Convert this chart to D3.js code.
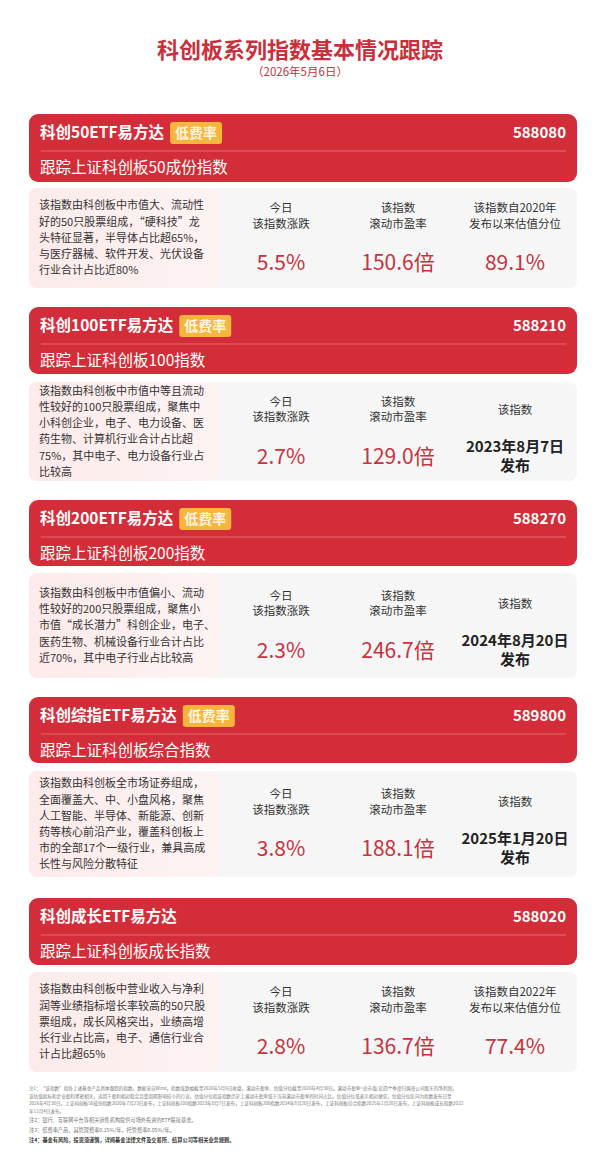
<!DOCTYPE html>
<meta charset="utf-8">
<style>
  body { margin: 0; background: #fff; }
  text { font-family: "Noto Sans CJK SC", "Noto Sans", sans-serif; }
</style>
<body>
<div id="board"></div>
<script src="https://d3js.org/d3.v7.min.js"></script>
<script>
// card data
var names = ["科创50ETF易方达", "科创100ETF易方达", "科创200ETF易方达", "科创综指ETF易方达", "科创成长ETF易方达"];
var codes = ["588080", "588210", "588270", "589800", "588020"];
var lowFee = [true, true, true, true, false];
var tracks = ["跟踪上证科创板50成份指数", "跟踪上证科创板100指数", "跟踪上证科创板200指数", "跟踪上证科创板综合指数", "跟踪上证科创板成长指数"];
var descs = [
  ["该指数由科创板中市值大、流动性", "好的50只股票组成，“硬科技”龙", "头特征显著，半导体占比超65%，", "与医疗器械、软件开发、光伏设备", "行业合计占比近80%"],
  ["该指数由科创板中市值中等且流动", "性较好的100只股票组成，聚焦中", "小科创企业，电子、电力设备、医", "药生物、计算机行业合计占比超", "75%，其中电子、电力设备行业占", "比较高"],
  ["该指数由科创板中市值偏小、流动", "性较好的200只股票组成，聚焦小", "市值“成长潜力”科创企业，电子、", "医药生物、机械设备行业合计占比", "近70%，其中电子行业占比较高"],
  ["该指数由科创板全市场证券组成，", "全面覆盖大、中、小盘风格，聚焦", "人工智能、半导体、新能源、创新", "药等核心前沿产业，覆盖科创板上", "市的全部17个一级行业，兼具高成", "长性与风险分散特征"],
  ["该指数由科创板中营业收入与净利", "润等业绩指标增长率较高的50只股", "票组成，成长风格突出，业绩高增", "长行业占比高，电子、通信行业合", "计占比超65%"]
];
var dayChange = ["5.5%", "2.7%", "2.3%", "3.8%", "2.8%"];
var peTTM = ["150.6倍", "129.0倍", "246.7倍", "188.1倍", "136.7倍"];
var thirdLabel = [["该指数自2020年", "发布以来估值分位"], ["该指数"], ["该指数"], ["该指数"], ["该指数自2022年", "发布以来估值分位"]];
var thirdValue = ["89.1%", "2023年8月7日", "2024年8月20日", "2025年1月20日", "77.4%"];
// layout (vertical bands of each card)
var headerTop = [114, 307, 500, 697, 898];
var headerBot = [182, 374, 566, 763, 965];
var bodyTop = [188, 382, 573, 771, 972];
var bodyBot = [288, 481, 678, 877, 1072];
var notes = [
  "注1：“该指数”指各上述基金产品具体跟踪的指数。数据来自Wind，指数涨跌幅截至2026年5月6日收盘，滚动市盈率、估值分位截至2026年4月30日。滚动市盈率=总市值/近四个季度归属母公司股东的净利润，",
  "该估值指标和企业盈利紧密相关，适用于盈利相对稳定且受周期影响较小的行业。估值分位指该指数历史上滚动市盈率低于当前滚动市盈率的时间占比。估值分位低表示相对便宜，估值分位区间为指数发布日至",
  "2026年4月30日。上证科创板50成份指数2020年7月23日发布，上证科创板100指数2023年8月7日发布，上证科创板200指数2024年8月20日发布，上证科创板综合指数2025年1月20日发布，上证科创板成长指数2022",
  "年11月4日发布。",
  "注2：银行、互联网平台等相关销售机构提供可场外投资的ETF联接基金。",
  "注3：低费率产品，其管理费率0.15%/年，托管费率0.05%/年。",
  "注4：基金有风险，投资须谨慎，详阅基金法律文件及交易所、结算公司等相关业务规则。"
];
var noteY = [1088, 1096, 1103, 1111, 1120, 1130, 1140];

var W = 600, H = 1159, L = 29, R = 577;
var svg = d3.select("#board").append("svg").attr("width", W).attr("height", H);
var defs = svg.append("defs");
var grad = defs.append("linearGradient").attr("id", "pink").attr("x1", 0).attr("x2", 1);
grad.append("stop").attr("offset", "0%").attr("stop-color", "#fdeaea");
grad.append("stop").attr("offset", "100%").attr("stop-color", "#fdf3f3");

svg.append("text").attr("x", W / 2).attr("y", 50).attr("dy", "0.35em").attr("text-anchor", "middle")
  .attr("font-size", 22).attr("font-weight", 700).attr("fill", "#c9303c").text("科创板系列指数基本情况跟踪");
svg.append("text").attr("x", W / 2).attr("y", 72).attr("dy", "0.35em").attr("text-anchor", "middle")
  .attr("font-size", 11.5).attr("fill", "#c9303c").text("（2026年5月6日）");

var colX = d3.scalePoint().domain([0, 1, 2]).range([281, 515]);

names.forEach(function (name, i) {
  var g = svg.append("g");
  var ht = headerTop[i], hb = headerBot[i], hh = hb - ht;
  g.append("rect").attr("x", L).attr("y", ht).attr("width", R - L).attr("height", hh)
    .attr("rx", 9).attr("fill", "#d32d39");
  var ty = ht + 19, sy = ht + 54;
  var t = g.append("text").attr("x", 40).attr("y", ty).attr("dy", "0.35em")
    .attr("font-size", 15.5).attr("font-weight", 700).attr("fill", "#fff").text(name);
  if (lowFee[i]) {
    var tw = t.node().getComputedTextLength();
    g.append("rect").attr("x", 40 + tw + 6).attr("y", ty - 11).attr("width", 52).attr("height", 22)
      .attr("rx", 3).attr("fill", "#f6b53c");
    g.append("text").attr("x", 40 + tw + 32).attr("y", ty).attr("dy", "0.35em").attr("text-anchor", "middle")
      .attr("font-size", 14).attr("font-weight", 700).attr("fill", "#fff6e0").text("低费率");
  }
  g.append("text").attr("x", 566).attr("y", ty).attr("dy", "0.35em").attr("text-anchor", "end")
    .attr("font-size", 15).attr("font-weight", 700).attr("fill", "#fff").text(codes[i]);
  g.append("line").attr("x1", 41).attr("x2", 566).attr("y1", ht + 37).attr("y2", ht + 37)
    .attr("stroke", "#e66a72").attr("stroke-width", 1);
  g.append("text").attr("x", 40).attr("y", sy).attr("dy", "0.35em")
    .attr("font-size", 15.5).attr("fill", "#fff").text(tracks[i]);

  // body
  var bt = bodyTop[i], bb = bodyBot[i], cy = (bt + bb) / 2;
  g.append("rect").attr("x", L).attr("y", bt).attr("width", R - L).attr("height", bb - bt)
    .attr("rx", 8).attr("fill", "#f6f6f6");
  g.append("rect").attr("x", L).attr("y", bt).attr("width", 190).attr("height", bb - bt)
    .attr("rx", 8).attr("fill", "url(#pink)");
  var lh = 16.2, n = descs[i].length;
  descs[i].forEach(function (ln, k) {
    g.append("text").attr("x", 39).attr("y", cy + (k - (n - 1) / 2) * lh).attr("dy", "0.35em")
      .attr("font-size", 11).attr("fill", "#333").text(ln);
  });

  var labels = [["今日", "该指数涨跌"], ["该指数", "滚动市盈率"], thirdLabel[i]];
  var values = [dayChange[i], peTTM[i], thirdValue[i]];
  labels.forEach(function (lab, c) {
    var x = colX(c);
    var isDate = values[c].indexOf("日") >= 0;
    if (lab.length === 1) {
      g.append("text").attr("x", x).attr("y", cy - 22).attr("dy", "0.35em").attr("text-anchor", "middle")
        .attr("font-size", 11.5).attr("fill", "#333").text(lab[0]);
    } else {
      lab.forEach(function (s, k) {
        g.append("text").attr("x", x).attr("y", cy - 30 + k * 15.5).attr("dy", "0.35em").attr("text-anchor", "middle")
          .attr("font-size", 11.5).attr("fill", "#333").text(s);
      });
    }
    if (isDate) {
      g.append("text").attr("x", x).attr("y", cy + 15).attr("dy", "0.35em").attr("text-anchor", "middle")
        .attr("font-size", 15).attr("font-weight", 700).attr("fill", "#222").text(values[c]);
      g.append("text").attr("x", x).attr("y", cy + 34).attr("dy", "0.35em").attr("text-anchor", "middle")
        .attr("font-size", 15).attr("font-weight", 700).attr("fill", "#222").text("发布");
    } else {
      g.append("text").attr("x", x).attr("y", cy + 25).attr("dy", "0.35em").attr("text-anchor", "middle")
        .attr("font-size", 21).attr("fill", "#c8323e").text(values[c]);
    }
  });
});

notes.forEach(function (s, k) {
  svg.append("text").attr("x", 29).attr("y", noteY[k]).attr("dy", "0.35em")
    .attr("font-size", k < 4 ? 4.6 : 5.2).attr("fill", k === 6 ? "#333" : "#777")
    .attr("font-weight", k === 6 ? 700 : 400).text(s);
});
</script>
</body>
